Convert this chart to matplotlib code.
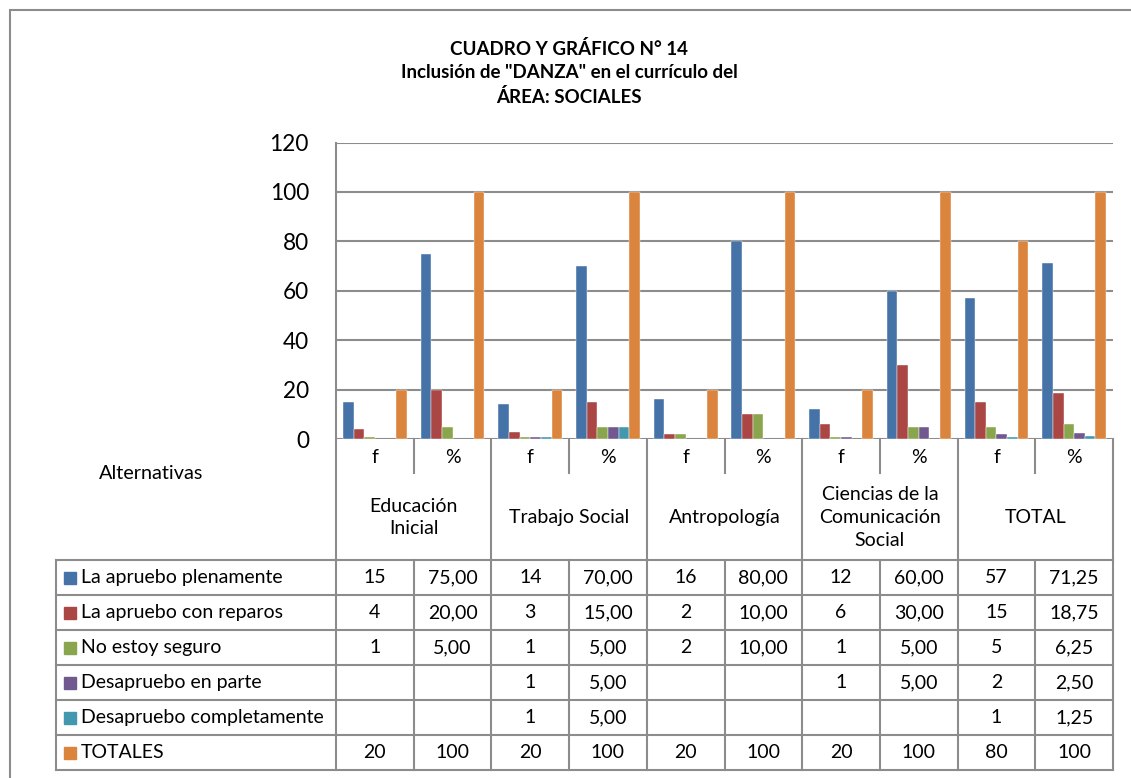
import matplotlib.pyplot as plt
from matplotlib.patches import Rectangle
from matplotlib.lines import Line2D

plt.rcParams['font.family'] = ['Lato', 'DejaVu Sans']

# data
series = ["La apruebo plenamente", "La apruebo con reparos", "No estoy seguro",
          "Desapruebo en parte", "Desapruebo completamente", "TOTALES"]
groups = ["Educación\nInicial", "Trabajo Social", "Antropología",
          "Ciencias de la\nComunicación\nSocial", "TOTAL"]
subcats = ["f", "%"]
plenamente = [15, 75, 14, 70, 16, 80, 12, 60, 57, 71.25]
reparos = [4, 20, 3, 15, 2, 10, 6, 30, 15, 18.75]
seguro = [1, 5, 1, 5, 2, 10, 1, 5, 5, 6.25]
en_parte = [None, None, 1, 5, None, None, 1, 5, 2, 2.5]
completamente = [None, None, 1, 5, None, None, None, None, 1, 1.25]
totales = [20, 100, 20, 100, 20, 100, 20, 100, 80, 100]
values = [plenamente, reparos, seguro, en_parte, completamente, totales]
colors = ["#4572A7", "#AA4643", "#89A54E", "#71588F", "#4198AF", "#DB843D"]
title = 'CUADRO Y GRÁFICO N° 14\nInclusión de "DANZA" en el currículo del\nÁREA: SOCIALES'

W, H = 1131, 778
fig = plt.figure(figsize=(W / 100, H / 100), dpi=100)
grid_c = "#8c8c8c"
fs = 14


def box(x0, y0, x1, y1):
    return [x0 / W, 1 - y1 / H, (x1 - x0) / W, (y1 - y0) / H]


# outer frame
fig.add_artist(Rectangle((10 / W, -0.1), 1.2, 1 - 10 / H + 0.1, transform=fig.transFigure,
                         fill=False, edgecolor="#8c8c8c", lw=1.5))

fig.text(569 / W, 1 - 73 / H, title, ha="center", va="center", fontsize=13.5,
         fontweight="bold", linespacing=1.42)

ncol = len(plenamente)
ax = fig.add_axes(box(336, 142.5, 1113, 439))
bw = 0.137
for j, (name, vals) in enumerate(zip(series, values)):
    xs = [i + 0.5 + (j - 2.5) * bw for i, v in enumerate(vals) if v is not None]
    hs = [v for v in vals if v is not None]
    ax.bar(xs, hs, width=bw, color=colors[j], edgecolor="white", linewidth=0.3, zorder=3)
ax.set_xlim(0, ncol)
ax.set_ylim(0, 120)
ax.set_yticks(range(0, 121, 20))
ax.yaxis.grid(True, color=grid_c, lw=1.5)
ax.set_axisbelow(True)
ax.tick_params(axis="y", length=0, labelsize=16.3, pad=19.5)
ax.set_xticks([])
for s in ["top", "right", "bottom", "left"]:
    ax.spines[s].set_visible(False)

# table area (pixel coordinates)
tx = fig.add_axes(box(0, 0, W, H))
tx.set_xlim(0, W)
tx.set_ylim(H, 0)
tx.axis("off")
x0, x1 = 336, 1113
cw = (x1 - x0) / ncol
ytop, ysub, ygrp, rh = 439, 473, 560, 35
lk = dict(color=grid_c, lw=1.5)

# axis line
tx.add_line(Line2D([x0, x0], [142.5, ygrp], **lk))
for i in range(ncol):
    cx = x0 + (i + 0.5) * cw
    tx.text(cx, (ytop + ysub) / 2 + 1, subcats[i % 2], ha="center", va="center", fontsize=fs)
    xe = x0 + (i + 1) * cw
    if i % 2 == 0:
        tx.add_line(Line2D([xe, xe], [ytop, ysub], **lk))
    else:
        tx.add_line(Line2D([xe, xe], [ytop, ygrp], **lk))
for g, name in enumerate(groups):
    cx = x0 + (2 * g + 1) * cw
    tx.text(cx, (ysub + ygrp) / 2 + 1, name, ha="center", va="center", fontsize=fs,
            linespacing=1.42)
tx.text(99, 473, "Alternativas", ha="left", va="center", fontsize=14.3)

# data table
lx = 56
ybot = ygrp + rh * len(series)
tx.add_line(Line2D([lx, x1], [ygrp, ygrp], **lk))
for r in range(len(series)):
    yb = ygrp + (r + 1) * rh
    tx.add_line(Line2D([lx, x1], [yb, yb], **lk))
for xv in [lx] + [x0 + i * cw for i in range(ncol + 1)]:
    tx.add_line(Line2D([xv, xv], [ygrp, ybot], **lk))
for r, (name, vals) in enumerate(zip(series, values)):
    yc = ygrp + (r + 0.5) * rh
    tx.add_patch(Rectangle((64, yc - 6), 12, 12, color=colors[r]))
    tx.text(81, yc, name, ha="left", va="center", fontsize=fs)
    for i, v in enumerate(vals):
        if v is None:
            continue
        if i % 2 == 1 and name != "TOTALES":
            s = f"{v:.2f}".replace(".", ",")
        else:
            s = f"{v:g}"
        tx.text(x0 + (i + 0.5) * cw, yc, s, ha="center", va="center", fontsize=fs)

fig.savefig("out.png", dpi=100)
